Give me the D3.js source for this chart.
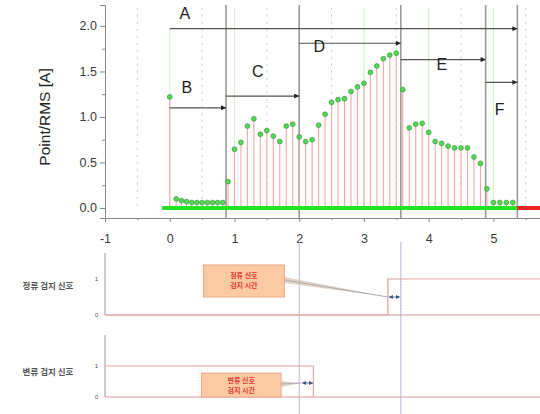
<!DOCTYPE html>
<html>
<head>
<meta charset="utf-8">
<script src="https://cdn.jsdelivr.net/npm/d3@7"></script>
<style>
  body { margin: 0; background: #fff; }
  svg { display: block; font-family: "Liberation Sans", Arial, sans-serif; }
</style>
</head>
<body>
<div id="vis"></div>
<script>
// sample times and Point/RMS values
const times = [
  0, 0.1, 0.18, 0.26, 0.34, 0.42, 0.5, 0.58, 0.66, 0.74, 0.82,
  0.9, 1.0, 1.1, 1.2, 1.3, 1.4, 1.5, 1.6, 1.7, 1.8, 1.9,
  2.0, 2.1, 2.2, 2.3, 2.4, 2.5, 2.6, 2.7, 2.8, 2.9,
  3.0, 3.1, 3.2, 3.3, 3.4, 3.5, 3.6, 3.7, 3.8, 3.9,
  4.0, 4.1, 4.2, 4.3, 4.4, 4.5, 4.6, 4.7, 4.8, 4.9,
  5.0, 5.1, 5.2, 5.3
];
const rms = [
  1.22, 0.10, 0.08, 0.07, 0.06, 0.06, 0.06, 0.06, 0.06, 0.06, 0.06,
  0.29, 0.645, 0.72, 0.90, 0.98, 0.81, 0.85, 0.79, 0.73, 0.90, 0.92,
  0.78, 0.73, 0.75, 0.91, 1.03, 1.16, 1.19, 1.20, 1.28, 1.33,
  1.37, 1.49, 1.56, 1.64, 1.68, 1.70, 1.30, 0.88, 0.92, 0.93,
  0.83, 0.73, 0.71, 0.68, 0.66, 0.66, 0.66, 0.56, 0.49, 0.21,
  0.06, 0.06, 0.06, 0.06
];
const xTicks = [-1, 0, 1, 2, 3, 4, 5];
const yTicks = [0.0, 0.5, 1.0, 1.5, 2.0];

// section boundaries and arrows
const bounds = [0.87, 2.0, 3.57, 4.88, 5.37];
const arrowNames = ['A', 'B', 'C', 'D', 'E', 'F'];
const arrowFrom  = [0, 0, 0.87, 2.0, 3.57, 4.88];
const arrowTo    = [5.37, 0.87, 2.0, 3.57, 4.88, 5.37];
const arrowLevel = [1.97, 1.10, 1.23, 1.81, 1.63, 1.38];
const labelX     = [0.15, 0.18, 1.27, 2.22, 4.12, 5.02];
const labelY     = [2.08, 1.26, 1.44, 1.71, 1.52, 1.02];

// detection signals
const sig1Name = '정류 검지 신호';
const sig2Name = '변류 검지 신호';
const sig1On = 3.37;   // rises to 1
const sig2Off = 2.22;  // falls to 0
const box1Text = ['정류 신호', '검지 시간'];
const box2Text = ['변류 신호', '검지 시간'];
const markLines = [2.0, 3.57];

const W = 540, H = 414;

const svg = d3.select('#vis').append('svg')
  .attr('width', W).attr('height', H);

svg.append('rect').attr('width', W).attr('height', H).attr('fill', '#fff');

const x = d3.scaleLinear().domain([-1, 5.72]).range([105, 540]);
const y = d3.scaleLinear().domain([-0.11, 2.23]).range([218, 5]);

// half-unit dotted grid
const halves = [-0.5, 0.5, 1.5, 2.5, 3.5, 4.5, 5.5];
svg.append('g').selectAll('line').data(halves).join('line')
  .attr('x1', d => x(d)).attr('x2', d => x(d))
  .attr('y1', y(2.2)).attr('y2', y(0))
  .attr('stroke', '#c8c8c8').attr('stroke-width', 1)
  .attr('stroke-dasharray', '2,5');

// light green verticals at whole units
svg.append('g').selectAll('line').data([0, 1, 2, 3, 4, 5]).join('line')
  .attr('x1', d => x(d)).attr('x2', d => x(d))
  .attr('y1', d => d === 0 ? y(1.97) : y(2.2)).attr('y2', y(0))
  .attr('stroke', '#d2f2d2').attr('stroke-width', 1.2);

// section boundaries
svg.append('g').selectAll('line').data(bounds).join('line')
  .attr('x1', d => x(d)).attr('x2', d => x(d))
  .attr('y1', y(2.23)).attr('y2', y(-0.11))
  .attr('stroke', '#9a9a9a').attr('stroke-width', 1.6);

// stems
svg.append('g').selectAll('line').data(times).join('line')
  .attr('x1', d => x(d)).attr('x2', d => x(d))
  .attr('y1', y(0)).attr('y2', (d, i) => y(rms[i]))
  .attr('stroke', '#f4a8a8').attr('stroke-width', 1.1);

// baseline status line
svg.append('line')
  .attr('x1', x(-0.12)).attr('x2', x(5.37))
  .attr('y1', y(0)).attr('y2', y(0))
  .attr('stroke', '#22e522').attr('stroke-width', 4);
svg.append('line')
  .attr('x1', x(5.37)).attr('x2', x(5.72))
  .attr('y1', y(0)).attr('y2', y(0))
  .attr('stroke', '#ee2222').attr('stroke-width', 4);

// markers
svg.append('g').selectAll('circle').data(times).join('circle')
  .attr('cx', d => x(d)).attr('cy', (d, i) => y(rms[i]))
  .attr('r', 2.4)
  .attr('fill', '#4fdc4f').attr('stroke', '#3a8f3a').attr('stroke-width', 0.7);

// arrows
const defs = svg.append('defs');
defs.append('marker')
  .attr('id', 'arr').attr('viewBox', '0 0 10 10')
  .attr('refX', 10).attr('refY', 5)
  .attr('markerWidth', 9).attr('markerHeight', 5)
  .attr('markerUnits', 'userSpaceOnUse')
  .attr('orient', 'auto')
  .append('path').attr('d', 'M0,0L10,5L0,10Z').attr('fill', '#222');
defs.append('marker')
  .attr('id', 'sm').attr('viewBox', '0 0 10 10')
  .attr('refX', 10).attr('refY', 5)
  .attr('markerWidth', 4).attr('markerHeight', 4)
  .attr('markerUnits', 'userSpaceOnUse')
  .attr('orient', 'auto-start-reverse')
  .append('path').attr('d', 'M0,0L10,5L0,10Z').attr('fill', '#3f557f');

const arrows = svg.append('g');
arrowNames.forEach((n, i) => {
  arrows.append('line')
    .attr('x1', x(arrowFrom[i])).attr('x2', x(arrowTo[i]))
    .attr('y1', y(arrowLevel[i])).attr('y2', y(arrowLevel[i]))
    .attr('stroke', '#555').attr('stroke-width', 1.2)
    .attr('marker-end', 'url(#arr)');
  arrows.append('text')
    .attr('x', x(labelX[i])).attr('y', y(labelY[i]))
    .attr('font-size', 16).attr('fill', '#222')
    .text(n);
});

// axes
const axL = svg.append('g').attr('transform', 'translate(105,0)')
  .call(d3.axisLeft(y).tickValues(yTicks).tickFormat(d3.format('.1f')).tickSize(5));
svg.append('g').attr('transform', 'translate(105,0)')
  .call(d3.axisLeft(y).tickValues([0.25, 0.75, 1.25, 1.75]).tickFormat('').tickSize(3))
  .select('.domain').remove();
const axB = svg.append('g').attr('transform', 'translate(0,218)')
  .call(d3.axisBottom(x).tickValues(xTicks).tickSize(4).tickFormat(d => d));
svg.append('g').attr('transform', 'translate(0,218)')
  .call(d3.axisBottom(x).tickValues(halves).tickSize(2).tickFormat(''))
  .select('.domain').remove();

svg.selectAll('.domain').attr('stroke', '#888');
svg.selectAll('.tick line').attr('stroke', '#888');
axL.selectAll('text').attr('font-size', 12.5).attr('fill', '#3a3a3a');
axB.selectAll('text').attr('font-size', 12.5).attr('fill', '#3a3a3a').attr('dy', '1.4em');

svg.append('text')
  .attr('transform', 'translate(50,' + y(1.0) + ') rotate(-90)')
  .attr('text-anchor', 'middle')
  .attr('font-size', 15.5).attr('fill', '#222')
  .text('Point/RMS [A]');

// lower signal plots
const y1 = d3.scaleLinear().domain([0, 1]).range([315, 279]);
const y2 = d3.scaleLinear().domain([0, 1]).range([397, 366]);

// vertical marker lines
svg.append('g').selectAll('line').data(markLines).join('line')
  .attr('x1', d => x(d)).attr('x2', d => x(d))
  .attr('y1', 242).attr('y2', H)
  .attr('stroke', '#b9b9e2').attr('stroke-width', 1);

function signalPlot(ys, top, name, stepPts, boxX, boxY, boxText, tipX, tipY) {
  const g = svg.append('g');
  g.append('line')
    .attr('x1', 105).attr('x2', 105).attr('y1', top).attr('y2', ys(0))
    .attr('stroke', '#999').attr('stroke-width', 1);
  g.append('line')
    .attr('x1', 105).attr('x2', W).attr('y1', ys(0)).attr('y2', ys(0))
    .attr('stroke', '#e39a9a').attr('stroke-width', 1.2);
  g.append('path')
    .attr('d', d3.line().x(d => x(d[0])).y(d => ys(d[1]))(stepPts))
    .attr('fill', 'none').attr('stroke', '#eaa4a4').attr('stroke-width', 1.2);
  [0, 1].forEach(v => {
    g.append('text').attr('x', 98).attr('y', ys(v) + 2)
      .attr('text-anchor', 'end').attr('font-size', 6).attr('fill', '#555')
      .text(v);
  });
  g.append('text').attr('x', 48).attr('y', ys(0.8) + 3)
    .attr('text-anchor', 'middle').attr('font-size', 8.5).attr('font-weight', 'bold')
    .attr('font-family', '"Noto Sans CJK KR", sans-serif')
    .attr('fill', '#555').text(name);
  // callout wedge
  const bx1 = x(boxX[1]);
  const midY = (ys(boxY[0]) + ys(boxY[1])) / 2;
  g.append('path')
    .attr('d', 'M' + bx1 + ',' + (midY - 4) + 'L' + x(tipX) + ',' + ys(tipY) +
      'L' + bx1 + ',' + (midY + 2) + 'Z')
    .attr('fill', '#dcbfa8').attr('opacity', 0.7);
  g.append('line')
    .attr('x1', bx1).attr('x2', x(tipX)).attr('y1', midY - 1).attr('y2', ys(tipY))
    .attr('stroke', '#9aa3b8').attr('stroke-width', 0.8);
  g.append('rect')
    .attr('x', x(boxX[0])).attr('y', ys(boxY[1]))
    .attr('width', x(boxX[1]) - x(boxX[0])).attr('height', ys(boxY[0]) - ys(boxY[1]))
    .attr('fill', '#fbc9a2').attr('stroke', '#e8a98a').attr('stroke-width', 1);
  const cx = (x(boxX[0]) + x(boxX[1])) / 2;
  boxText.forEach((t, i) => {
    g.append('text').attr('x', cx).attr('y', midY - 2.5 + i * 10)
      .attr('text-anchor', 'middle').attr('font-size', 7).attr('font-weight', 'bold')
      .attr('font-family', '"Noto Sans CJK KR", sans-serif')
      .attr('fill', '#e23a3a').text(t);
  });
  // double arrow
  g.append('line')
    .attr('x1', x(tipX) + 1).attr('x2', x(tipX) + 12)
    .attr('y1', ys(tipY)).attr('y2', ys(tipY))
    .attr('stroke', '#3f557f').attr('stroke-width', 0.8)
    .attr('marker-start', 'url(#sm)').attr('marker-end', 'url(#sm)');
  return g;
}

signalPlot(y1, 253, sig1Name,
  [[-1, 0], [sig1On, 0], [sig1On, 1], [5.72, 1]],
  [0.52, 1.77], [0.5, 1.39], box1Text, 3.37, 0.5);
signalPlot(y2, 335, sig2Name,
  [[-1, 1], [sig2Off, 1], [sig2Off, 0]],
  [0.49, 1.72], [0.0, 0.77], box2Text, 2.03, 0.45);

// dotted detection windows
svg.append('rect')
  .attr('x', x(sig1On)).attr('y', y1(1))
  .attr('width', x(3.57) - x(sig1On)).attr('height', y1(0) - y1(1))
  .attr('fill', 'none').attr('stroke', '#aaa').attr('stroke-width', 0.6)
  .attr('stroke-dasharray', '1,2');
svg.append('rect')
  .attr('x', x(0.45)).attr('y', y2(1))
  .attr('width', x(sig2Off) - x(0.45)).attr('height', y2(0) - y2(1))
  .attr('fill', 'none').attr('stroke', '#e9b89a').attr('stroke-width', 0.6)
  .attr('stroke-dasharray', '1,2');
</script>
</body>
</html>
